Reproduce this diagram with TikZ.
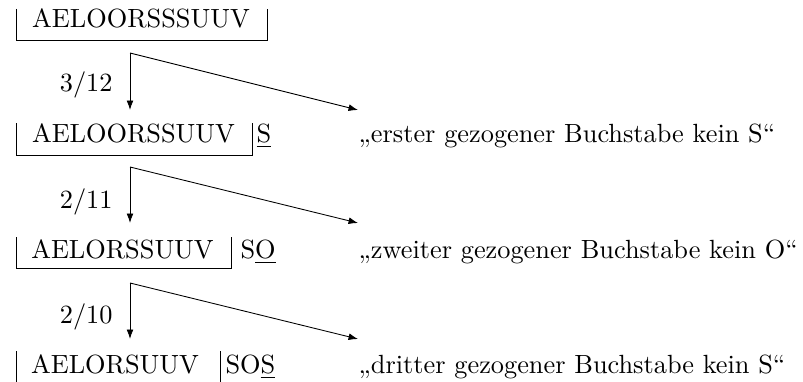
\documentclass[tikz,border=0pt]{standalone}
\usepackage{fontspec}
\usetikzlibrary{arrows.meta}
\begin{document}
\begin{tikzpicture}[x=0.38pt,y=-0.38pt,
  urn/.style={line width=0.33pt},
  txt/.style={inner sep=0pt,anchor=base},
  lft/.style={inner sep=0pt,anchor=base west},
  rgt/.style={inner sep=0pt,anchor=base east},
  arr/.style={line width=0.33pt,-{Latex[length=3.6pt,width=2.6pt]}}]
\useasboundingbox (0,0) rectangle (803,381);
% row 1
\node[txt] (u1) at (141,28) {AELOORSSSUUV};
\draw[urn] (16,9) -- (16,40) -- (267,40) -- (267,9);
% arrows 1
\coordinate (c1) at (130,53);
\coordinate (d1) at (130,110);
\coordinate (e1) at (358,110);
\draw[arr] (c1) -- (d1);
\draw[arr] (c1) -- (e1);
\node[rgt] (p1) at (113,92) {3/12};
% row 2
\node[txt] (u2) at (133.5,142) {AELOORSSUUV};
\draw[urn] (16,123) -- (16,155) -- (252,155) -- (252,123);
\node[lft] (s2) at (256,142) {\underline{S}};
\node[lft] (q2) at (358,142) {„erster gezogener Buchstabe kein S“};
% arrows 2
\coordinate (c2) at (130,167);
\coordinate (d2) at (130,223);
\coordinate (e2) at (358,223);
\draw[arr] (c2) -- (d2);
\draw[arr] (c2) -- (e2);
\node[rgt] (p2) at (113,208) {2/11};
% row 3
\node[txt] (u3) at (122.5,258) {AELORSSUUV};
\draw[urn] (16,237) -- (16,268) -- (231,268) -- (231,237);
\node[lft] (s3) at (240,258) {S\underline{O}};
\node[lft] (q3) at (358,258) {„zweiter gezogener Buchstabe kein O“};
% arrows 3
\coordinate (c3) at (130,283);
\coordinate (d3) at (130,339);
\coordinate (e3) at (358,339);
\draw[arr] (c3) -- (d3);
\draw[arr] (c3) -- (e3);
\node[rgt] (p3) at (113,323) {2/10};
% row 4
\node[txt] (u4) at (115,373) {AELORSUUV};
\draw[urn] (16,351) -- (16,386) -- (220,386) -- (220,351);
\node[lft] (s4) at (225,373) {SO\underline{S}};
\node[lft] (q4) at (358,373) {„dritter gezogener Buchstabe kein S“};
\end{tikzpicture}
\end{document}
